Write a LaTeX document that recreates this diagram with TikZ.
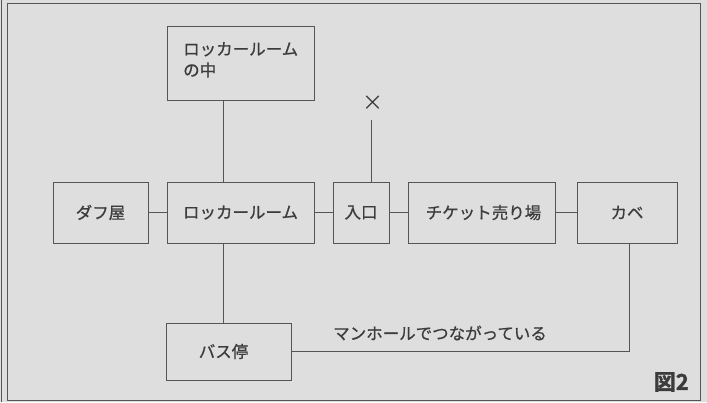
\documentclass[tikz,border=0pt]{standalone}
\usepackage{fontspec}
\newfontfamily\cjk[FakeBold=0.8]{Noto Sans CJK JP}
\newfontfamily\cjkthin{Noto Sans CJK JP}
\newfontfamily\cjkheavy[FakeBold=1.5]{Noto Sans CJK JP Bold}
\begin{document}
\begin{tikzpicture}[x=1pt,y=-1pt,
  box/.style={draw=linec,line width=0.9pt,inner sep=0pt},
  lbl/.style={text=textc,font=\cjk\fontsize{16.5}{21}\selectfont,inner sep=0pt},
  conn/.style={draw=linec,line width=0.9pt}]
\definecolor{bgc}{HTML}{DEDEDE}
\definecolor{linec}{HTML}{555555}
\definecolor{textc}{HTML}{3C3C3C}
\fill[bgc] (0,0) rectangle (707,402);
\useasboundingbox (0,0) rectangle (707,402);
\draw[linec,line width=1pt] (7,3) rectangle (700,400);
\draw[linec,line width=1pt] (1.5,0) -- (1.5,402);
% boxes
\node[box,minimum width=147pt,minimum height=74pt] (inner) at (240.5,63) {};
\node[lbl,anchor=north west,align=left] (innert) at (183,42) {ロッカールーム\\の中};
\node[box,minimum width=95pt,minimum height=61pt] (daf) at (100.5,212.5) {};
\node[lbl] at (daf.center) {ダフ屋};
\node[box,minimum width=147pt,minimum height=61pt] (lock) at (240.5,212.5) {};
\node[lbl] at (lock.center) {ロッカールーム};
\node[box,minimum width=56pt,minimum height=61pt] (ent) at (361,212.5) {};
\node[lbl] at (ent.center) {入口};
\node[box,minimum width=147pt,minimum height=61pt] (tick) at (481.5,212.5) {};
\node[lbl] at ([xshift=2pt]tick.center) {チケット売り場};
\node[box,minimum width=100pt,minimum height=61pt] (wall) at (627,212.5) {};
\node[lbl] at (wall.center) {カベ};
\node[box,minimum width=125pt,minimum height=57pt] (bus) at (228.5,351.5) {};
\node[lbl] at ([xshift=-5pt]bus.center) {バス停};
\node[lbl,anchor=west] (man) at (333,333) {マンホールでつながっている};
\node[text=textc,font=\cjkthin\fontsize{21}{21}\selectfont,inner sep=0pt] (cross) at (372.5,103) {×};
\coordinate (crossend) at (371,120);
\node[text=textc,font=\cjkheavy\fontsize{22}{22}\selectfont,inner sep=0pt,anchor=east] (fig) at (689,382) {図2};
% connectors
\draw[conn] (inner.south -| 223,0) -- (lock.north -| 223,0);
\draw[conn] (lock.south -| 223,0) -- (bus.north -| 223,0);
\draw[conn] (daf.east) -- (lock.west);
\draw[conn] (lock.east) -- (ent.west);
\draw[conn] (ent.east) -- (tick.west);
\draw[conn] (tick.east) -- (wall.west);
\draw[conn] (ent.north -| crossend) -- (crossend);
\draw[conn] (bus.east) -- (bus.east -| 629,0) -- (wall.south -| 629,0);
\end{tikzpicture}
\end{document}
